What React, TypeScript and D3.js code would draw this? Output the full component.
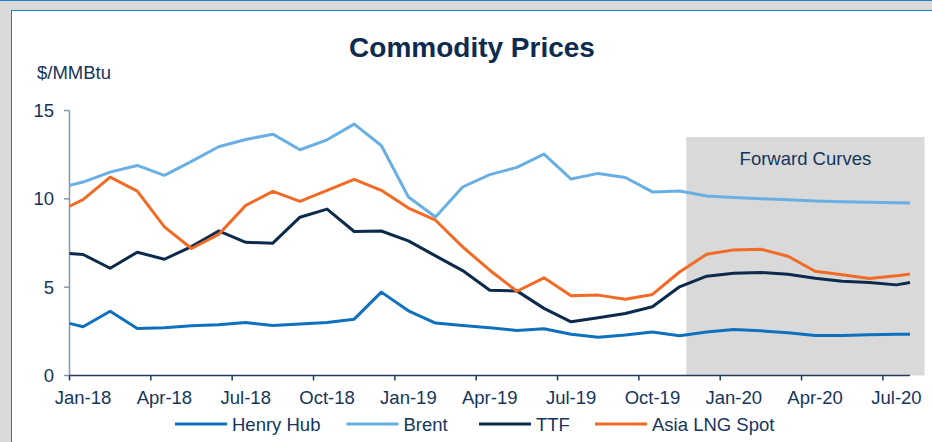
import React from "react";
import * as d3 from "d3";

// ---- data ----
const dates = [
  "2018-01-01", "2018-01-15", "2018-02-15", "2018-03-15", "2018-04-15", "2018-05-15",
  "2018-06-15", "2018-07-15", "2018-08-15", "2018-09-15", "2018-10-15", "2018-11-15",
  "2018-12-15", "2019-01-15", "2019-02-15", "2019-03-15", "2019-04-15", "2019-05-15",
  "2019-06-15", "2019-07-15", "2019-08-15", "2019-09-15", "2019-10-15", "2019-11-15",
  "2019-12-15", "2020-01-15", "2020-02-15", "2020-03-15", "2020-04-15", "2020-05-15",
  "2020-06-15", "2020-07-15", "2020-08-01",
];

const henryHub = [
  2.95, 2.76, 3.64, 2.66, 2.70, 2.81, 2.87, 3.00, 2.83, 2.91, 3.00, 3.19,
  4.72, 3.66, 2.97, 2.83, 2.70, 2.55, 2.65, 2.33, 2.16, 2.29, 2.46, 2.25,
  2.46, 2.61, 2.53, 2.42, 2.27, 2.27, 2.31, 2.34, 2.34,
];
const brent = [
  10.76, 10.95, 11.51, 11.89, 11.33, 12.12, 12.95, 13.36, 13.66, 12.78, 13.34, 14.23,
  13.02, 10.10, 8.97, 10.67, 11.37, 11.78, 12.53, 11.12, 11.44, 11.21, 10.39, 10.44,
  10.16, 10.08, 10.01, 9.95, 9.88, 9.84, 9.80, 9.78, 9.76,
];
const ttf = [
  6.90, 6.85, 6.07, 6.98, 6.58, 7.30, 8.18, 7.54, 7.49, 8.96, 9.42, 8.15,
  8.18, 7.62, 6.77, 5.94, 4.83, 4.79, 3.80, 3.04, 3.27, 3.51, 3.89, 5.02,
  5.62, 5.79, 5.83, 5.73, 5.51, 5.34, 5.26, 5.13, 5.26,
];
const asiaLng = [
  9.58, 9.95, 11.23, 10.44, 8.41, 7.19, 7.98, 9.63, 10.42, 9.86, 10.48, 11.10,
  10.48, 9.48, 8.79, 7.28, 5.96, 4.77, 5.53, 4.51, 4.55, 4.32, 4.59, 5.86,
  6.86, 7.11, 7.15, 6.75, 5.90, 5.70, 5.49, 5.64, 5.75,
];

const tickDates = [
  "2018-01-01", "2018-04-01", "2018-07-01", "2018-10-01", "2019-01-01", "2019-04-01",
  "2019-07-01", "2019-10-01", "2020-01-01", "2020-04-01", "2020-07-01",
];
const tickLabels = [
  "Jan-18", "Apr-18", "Jul-18", "Oct-18", "Jan-19", "Apr-19",
  "Jul-19", "Oct-19", "Jan-20", "Apr-20", "Jul-20",
];
const yTicks = [0, 5, 10, 15];

const seriesNames = ["Henry Hub", "Brent", "TTF", "Asia LNG Spot"];
const seriesValues = [henryHub, brent, ttf, asiaLng];
const seriesColors = ["#0f70bd", "#6aafe3", "#0b2a4c", "#f26a24"];

const forwardStart = "2019-11-22";
const forwardEnd = "2020-08-16";

// month position from a date string (month index since Jan-2018)
function monthPos(s: string): number {
  const [y, m, d] = s.split("-").map(Number);
  return (y - 2018) * 12 + (m - 1) + (d - 1) / 28;
}

const W = 932;
const H = 442;
const TEXT = "#15355c";
const FONT = "'Liberation Sans', Arial, sans-serif";
const FS = 18.5;

export default function App() {
  const x = d3.scaleLinear().domain([0, 31]).range([69.5, 910]);
  const y = d3.scaleLinear().domain([0, 15]).range([375.5, 110.5]);

  const line = d3
    .line<[number, number]>()
    .x((d) => x(d[0]))
    .y((d) => y(d[1]));

  const xs = dates.map(monthPos);

  const legendX = [175, 346.5, 479, 595];

  return (
    <div style={{ position: "absolute", left: 0, top: 0 }}>
      <svg width={W} height={H} style={{ display: "block" }} fontFamily={FONT}>
        <rect x={0} y={0} width={W} height={H} fill="#d9d9d9" />
        <line x1={0} x2={W} y1={0.5} y2={0.5} stroke="#1a7fc9" strokeWidth={1} />
        <rect x={11.5} y={10.5} width={W} height={H} fill="#ffffff" stroke="#1a7fc9" strokeWidth={1} />

        {/* forward curves region */}
        <rect
          x={x(monthPos(forwardStart))}
          y={137}
          width={x(monthPos(forwardEnd)) - x(monthPos(forwardStart))}
          height={y(0) - 137}
          fill="#d9d9d9"
        />
        <text
          x={(x(monthPos(forwardStart)) + x(monthPos(forwardEnd))) / 2}
          y={164.5}
          textAnchor="middle"
          fontSize={FS}
          fill={TEXT}
        >
          Forward Curves
        </text>

        {/* title */}
        <text x={472} y={56.5} textAnchor="middle" fontSize={28} fontWeight="bold" fill="#0d2b50">
          Commodity Prices
        </text>
        <text x={37} y={79} fontSize={FS} fill={TEXT}>
          $/MMBtu
        </text>

        {/* y axis */}
        <line x1={69.5} x2={69.5} y1={y(15)} y2={y(0)} stroke="#8596ab" strokeWidth={1.5} />
        {yTicks.map((t) => (
          <g key={t}>
            <line x1={64} x2={69.5} y1={y(t)} y2={y(t)} stroke="#8596ab" strokeWidth={1.5} />
            <text x={54} y={y(t) + 6.5} textAnchor="end" fontSize={FS} fill={TEXT}>
              {t}
            </text>
          </g>
        ))}

        {/* lines */}
        {seriesValues.map((vals, i) => (
          <path
            key={seriesNames[i]}
            d={line(vals.map((v, j) => [xs[j], v]) as [number, number][]) || ""}
            fill="none"
            stroke={seriesColors[i]}
            strokeWidth={3}
            strokeLinejoin="round"
          />
        ))}

        {/* x axis */}
        <line x1={x(0)} x2={x(31)} y1={y(0)} y2={y(0)} stroke="#1f3b60" strokeWidth={1.5} />
        {tickDates.map((d, i) => {
          const m = monthPos(d);
          return (
            <g key={d}>
              <line x1={x(m)} x2={x(m)} y1={y(0)} y2={y(0) + 5} stroke="#1f3b60" strokeWidth={1.5} />
              <text x={x(m + 0.5)} y={404} textAnchor="middle" fontSize={FS} fill={TEXT}>
                {tickLabels[i]}
              </text>
            </g>
          );
        })}

        {/* legend */}
        {seriesNames.map((n, i) => (
          <g key={n}>
            <line
              x1={legendX[i]}
              x2={legendX[i] + 52}
              y1={424}
              y2={424}
              stroke={seriesColors[i]}
              strokeWidth={3}
            />
            <text x={legendX[i] + 57} y={430.5} fontSize={FS} fill={TEXT}>
              {n}
            </text>
          </g>
        ))}
      </svg>
    </div>
  );
}
